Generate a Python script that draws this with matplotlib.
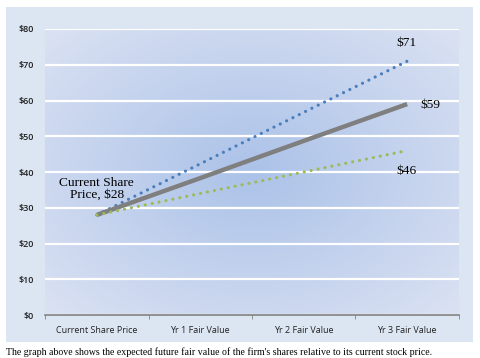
import matplotlib
matplotlib.use("Agg")
import matplotlib.pyplot as plt
import numpy as np
from matplotlib.patches import Rectangle

categories = ["Current Share Price", "Yr 1 Fair Value", "Yr 2 Fair Value", "Yr 3 Fair Value"]
high_case = [28, 42.3, 56.7, 71]
base_case = [28, 38.3, 48.7, 59]
low_case = [28, 34, 40, 46]
y_ticks = [0, 10, 20, 30, 40, 50, 60, 70, 80]
caption = "The graph above shows the expected future fair value of the firm's shares relative to its current stock price."

fig = plt.figure(figsize=(4.8, 3.58), dpi=100)
fig.patch.set_facecolor("white")

# outer chart panel
fig.patches.append(Rectangle((0.0125, 0.045), 0.9725, 0.935, transform=fig.transFigure,
                             facecolor="#dce6f2", edgecolor="none", zorder=-1))

ax = fig.add_axes([0.094, 0.120, 0.862, 0.799])
ax.set_facecolor("none")

# radial gradient behind the plot area
gx, gy = np.meshgrid(np.linspace(-1, 1, 200), np.linspace(-1, 1, 200))
r = np.clip(np.sqrt(gx**2 + gy**2) / 1.35, 0, 1)
inner = np.array([0.67, 0.76, 0.91])
outer = np.array([0.85, 0.88, 0.95])
grad = inner[None, None, :] * (1 - r[..., None]) + outer[None, None, :] * r[..., None]
ax.imshow(grad, extent=[0, 1, 0, 1], transform=ax.transAxes, aspect="auto", zorder=0)

x = np.arange(len(categories))
ax.plot(x, high_case, color="#4a7ebb", lw=2.3, linestyle=(0, (0.01, 2.2)),
        dash_capstyle="round", zorder=3)
ax.plot(x, base_case, color="#7f7f7f", lw=3.2, solid_capstyle="butt", zorder=3)
ax.plot(x, low_case, color="#9bbb59", lw=2.3, linestyle=(0, (0.01, 2.2)),
        dash_capstyle="round", zorder=3)

ax.set_xlim(-0.5, 3.5)
ax.set_ylim(0, 80)
ax.set_yticks(y_ticks)
ax.set_yticklabels([f"${v}" for v in y_ticks])
ax.set_xticks(x)
ax.set_xticklabels(categories)
ax.set_xticks([-0.5, 0.5, 1.5, 2.5, 3.5], minor=True)
ax.tick_params(axis="x", which="major", length=0, pad=8, labelsize=6.5, colors="#222222")
ax.tick_params(axis="x", which="minor", length=3, color="#808080", direction="out")
ax.tick_params(axis="y", length=0, pad=8, labelsize=6.5, colors="#222222")
for lab in ax.get_yticklabels() + ax.get_xticklabels():
    lab.set_fontfamily("Open Sans")
for lab in ax.get_yticklabels():
    lab.set_fontweight("semibold")

for s in ["top", "right", "left"]:
    ax.spines[s].set_visible(False)
ax.spines["bottom"].set_color("#808080")
ax.spines["bottom"].set_linewidth(1.2)
ax.spines["bottom"].set_zorder(4)

ax.grid(axis="y", color="white", lw=1.6, zorder=1)
ax.set_axisbelow(True)

serif = "Liberation Serif"
ax.text(0.0, 35.2, "Current Share\nPrice, $28", ha="center", va="center",
        fontsize=9.6, family=serif, linespacing=1.0, zorder=5)
ax.text(2.99, 76.1, "$71", ha="center", va="center", fontsize=9.6, family=serif)
ax.text(3.22, 58.7, "$59", ha="center", va="center", fontsize=9.6, family=serif)
ax.text(2.99, 40.3, "$46", ha="center", va="center", fontsize=9.6, family=serif)

fig.text(0.012, 0.017, caption, fontsize=7.1, family=serif, ha="left", va="center")

fig.savefig("out.png", dpi=100)
